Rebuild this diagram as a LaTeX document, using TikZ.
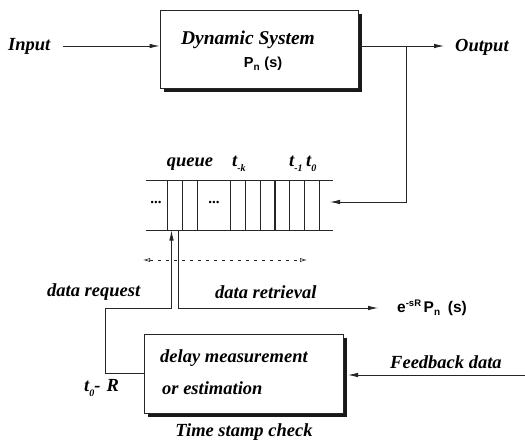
\documentclass[tikz,border=0pt]{standalone}
\usepackage{fontspec}
\setmainfont{Liberation Serif}
\newfontfamily\sansb{Liberation Sans}
\usetikzlibrary{arrows.meta}
\newcommand{\lbl}{\fontsize{18.5}{20}\selectfont\bfseries\itshape}
\newcommand{\lsub}[1]{\raisebox{-4.5pt}{\fontsize{10}{10}\selectfont\bfseries\itshape #1}}
\newcommand{\ssub}[1]{\raisebox{-3pt}{\fontsize{10}{10}\selectfont #1}}
\tikzset{
  ln/.style={line width=0.8pt, draw=black!85},
  arr/.style={ln, -{Latex[length=10pt,width=4.5pt]}},
  sysbox/.style={draw=black!85, line width=0.8pt, fill=white, rectangle, inner sep=0pt},
  shadow/.style={fill=black!90},
  cell/.style={draw=black!85, line width=0.7pt, rectangle, minimum width=15pt, minimum height=50.5pt, inner sep=0pt},
  txt/.style={inner sep=0pt, font=\lbl},
  sans/.style={inner sep=0pt, font=\fontsize{14.5}{15}\selectfont\sansb\bfseries},
}
\begin{document}
\begin{tikzpicture}[x=1pt,y=-1pt]
\useasboundingbox (0,0) rectangle (525,441);
% top box with shadow
\fill[shadow] (164,14) rectangle (362,92);
\node[sysbox, minimum width=198pt, minimum height=78pt] (top) at (259,49) {};
\node[txt, font=\fontsize{19.5}{21}\selectfont\bfseries\itshape] (dyn) at (248,40) {Dynamic System};
\node[sans] (pn) at (263,64) {P\ssub{n}\,\,(s)};
% input / output
\node[txt, anchor=west] (in) at (8,46) {Input};
\coordinate (inS) at (63,46);
\draw[arr] (inS) -- (top.west |- inS);
\coordinate (outE) at (444,46);
\node[txt, anchor=west] (out) at (455,47) {Output};
\draw[arr] (top.east |- outE) -- (outE);
\coordinate (br) at (406,46);
\coordinate (qin) at (330,202);
\draw[arr] (br) |- (qin);
% queue
\coordinate (qtl) at (146,180);
\coordinate (qtr) at (333,180);
\coordinate (qbl) at (146,230.5);
\coordinate (qbr) at (333,230.5);
\draw[ln, line width=0.7pt] (qtl) -- (qtr);
\draw[ln, line width=0.7pt] (qbl) -- (qbr);
\node[cell] (c1) at (174.8,205.25) {};
\node[cell] (c2) at (189.8,205.25) {};
\node[cell] (c3) at (238.2,205.25) {};
\node[cell] (c4) at (252.9,205.25) {};
\node[cell] (c5) at (267.5,205.25) {};
\node[cell] (c6) at (282.2,205.25) {};
\node[cell] (c7) at (296.7,205.25) {};
\node[cell] (c8) at (311.5,205.25) {};
\node[inner sep=0pt, font=\fontsize{15}{15}\selectfont\bfseries] (d1) at (156,202) {...};
\node[inner sep=0pt, font=\fontsize{15}{15}\selectfont\bfseries] (d2) at (214,202) {...};
\node[txt] (queue) at (190,164) {queue};
\node[txt, anchor=west] (tk) at (232,164) {t\lsub{-k}};
\node[txt, anchor=west] (t1) at (289,164) {t\lsub{-1}};
\node[txt, anchor=west] (t0) at (306,164) {t\lsub{0}};
% dashed double arrow
\coordinate (dl) at (143,260);
\coordinate (dr) at (307,260);
\draw[line width=0.6pt, draw=black!85, dash pattern=on 3pt off 5pt, {Latex[open,length=7pt,width=4pt]}-{Latex[open,length=7pt,width=4pt]}] (dl) -- (dr);
% bottom box with shadow
\fill[shadow] (148,338) rectangle (347,417);
\node[sysbox, minimum width=199pt, minimum height=79pt] (bot) at (243.5,373.5) {};
\node[txt, anchor=west] (dm) at (160,358) {delay measurement};
\node[txt, anchor=west] (oe) at (162,388) {or estimation};
\node[txt] (tsc) at (244,432) {Time stamp check};
\node[txt, anchor=west] (t0r) at (84,388) {t\lsub{0}-\,\,R};
% data request
\coordinate (rq1) at (105,373.5);
\coordinate (rq2) at (105,308);
\coordinate (rqtop) at (171.5,230.5);
\draw[arr] (bot.west) -- (rq1) -- (rq2) -| (rqtop);
\node[txt, anchor=west] (dreq) at (47,292) {data request};
% data retrieval
\coordinate (rtop) at (178,230.5);
\coordinate (rend) at (378,308);
\draw[arr] (rtop) |- (rend);
\node[txt, anchor=west] (dret) at (215,292) {data retrieval};
\node[sans, anchor=west, font=\fontsize{15.5}{16}\selectfont\sansb\bfseries] (esr) at (397,308) {e\raisebox{6.5pt}{\fontsize{9.5}{9.5}\selectfont -sR}\,P\ssub{n}\,\,\,(s)};
% feedback
\coordinate (fbS) at (525,375);
\coordinate (fbE) at (348,375);
\draw[arr] (fbS) -- (fbE);
\node[txt, anchor=west] (fb) at (390,362) {Feedback data};
\end{tikzpicture}
\end{document}
